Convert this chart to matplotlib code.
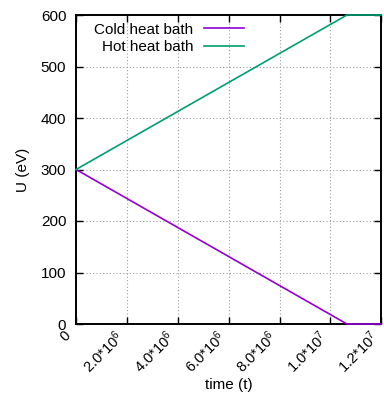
import matplotlib
matplotlib.use('Agg')
from matplotlib import pyplot as plt
from matplotlib.ticker import FuncFormatter
from matplotlib.transforms import ScaledTranslation

plt.rcParams['font.family'] = ['Liberation Sans', 'DejaVu Sans']
plt.rcParams['mathtext.fontset'] = 'custom'
plt.rcParams['mathtext.rm'] = 'Liberation Sans'
plt.rcParams['mathtext.it'] = 'Liberation Sans'

time = [0, 1.065e7, 1.2e7]
cold = [300, 0, 0]
hot = [300, 600, 600]
x_ticks = [0, 2e6, 4e6, 6e6, 8e6, 1e7, 1.2e7]
y_ticks = [0, 100, 200, 300, 400, 500, 600]


def sci_label(v, pos):
    if v == 0:
        return '0'
    exp = len(str(int(v))) - 1
    mant = v / 10 ** exp
    return r'$\mathrm{%.1f{*}10^{%d}}$' % (mant, exp)


fig = plt.figure(figsize=(3.84, 4.0), dpi=100)
ax = fig.add_axes([0.198, 0.19, 0.795, 0.7725])

ax.plot(time, cold, color='#9400d3', lw=1.2, label='Cold heat bath', clip_on=False, zorder=5)
ax.plot(time, hot, color='#009e73', lw=1.2, label='Hot heat bath', clip_on=False, zorder=5)

ax.set_xlim(0, 1.2e7)
ax.set_ylim(0, 600)
ax.set_xticks(x_ticks)
ax.set_yticks(y_ticks)
ax.xaxis.set_major_formatter(FuncFormatter(sci_label))
ax.tick_params(direction='in', top=True, right=True, length=5, width=1, labelsize=11)
ax.tick_params(axis='y', pad=7)
ax.tick_params(axis='x', pad=3, labelsize=10.5)
shift = ScaledTranslation(-9 / 72, 0, fig.dpi_scale_trans)
for lab in ax.get_xticklabels():
    lab.set_rotation(45)
    lab.set_ha('right')
    lab.set_rotation_mode('anchor')
    lab.set_transform(lab.get_transform() + shift)
ax.grid(True, color='#a0a0a0', linestyle=(0, (1, 2)), lw=0.8)
for s in ax.spines.values():
    s.set_linewidth(1.4)

ax.set_xlabel('time (t)', fontsize=11, labelpad=1)
ax.set_ylabel('U (eV)', fontsize=11, labelpad=8)

leg = ax.legend(loc='upper left', markerfirst=False, frameon=False, fontsize=11,
                handlelength=2.6, handletextpad=0.7, borderaxespad=0.0, labelspacing=0.25,
                bbox_to_anchor=(0.04, 0.995))
for t in leg.get_texts():
    t.set_ha('right')

fig.savefig('out.png', dpi=100)
